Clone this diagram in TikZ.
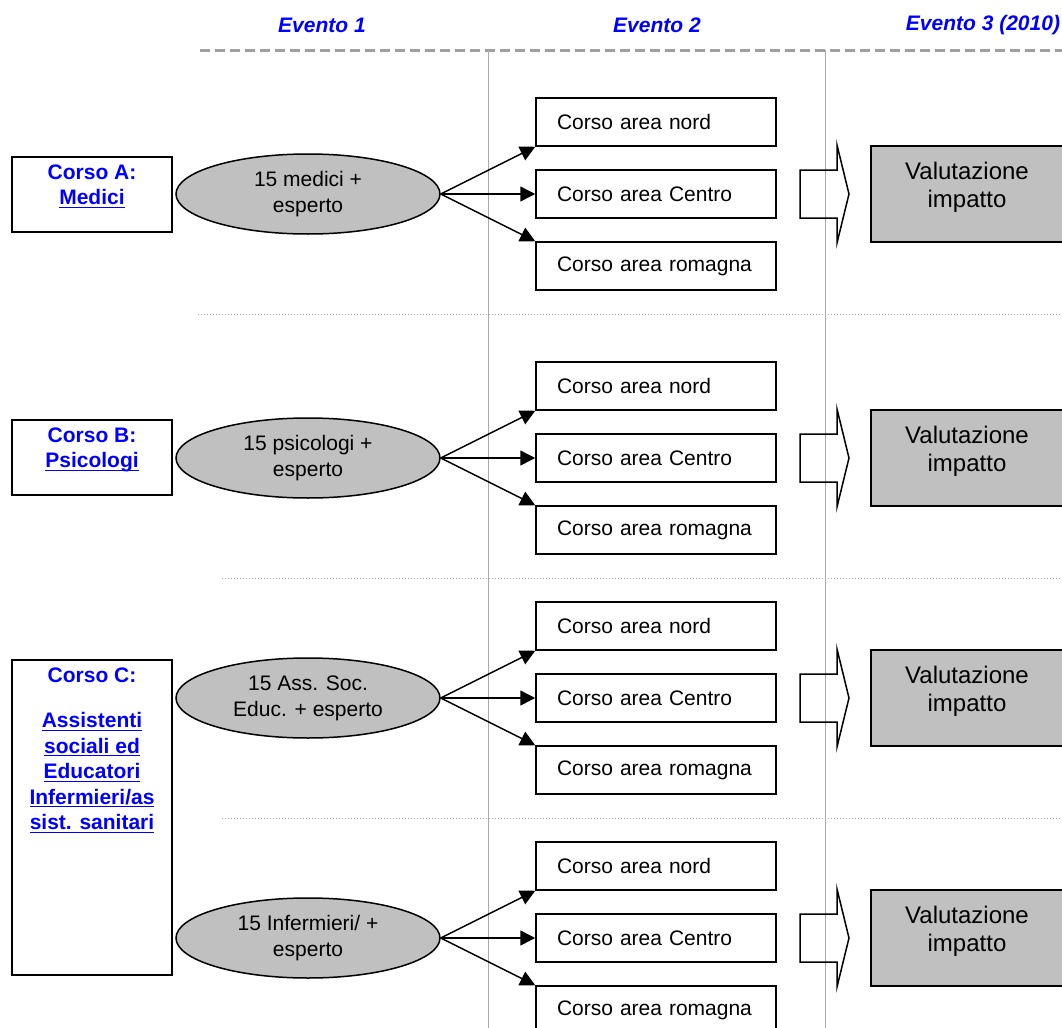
\documentclass[tikz,border=0pt]{standalone}
\usepackage{fontspec}
\setmainfont{Liberation Sans}
\usetikzlibrary{shapes.geometric}
\usetikzlibrary{arrows.meta}
\usetikzlibrary{positioning}
\definecolor{silver}{RGB}{192,192,192}
\definecolor{rulegray}{RGB}{160,160,160}
\definecolor{linegray}{RGB}{170,170,170}
\newcommand{\ulink}[1]{\underline{\smash{#1}}}
\tikzset{
area/.style={
  draw, line width=0.75pt,
  minimum width=120pt, minimum height=24pt,
  text width=99pt, inner xsep=10.5pt, inner ysep=0pt,
  align=left, font=\fontsize{10.5}{13}\selectfont
},
ente/.style={
  ellipse, draw, fill=silver, line width=0.75pt,
  minimum width=132pt, minimum height=40pt, inner sep=0pt,
  align=center, font=\fontsize{10.5}{13}\selectfont
},
corso/.style={draw, line width=1pt, minimum width=80pt, inner sep=0pt},
corsotext/.style={
  anchor=north, inner sep=0pt, align=center, text=blue,
  font=\bfseries\fontsize{10.5}{12.75}\selectfont
},
valuta/.style={draw, fill=silver, line width=0.75pt, minimum width=96pt, minimum height=48pt, inner sep=0pt},
valutatext/.style={anchor=north, inner sep=0pt, align=center, font=\fontsize{12}{14}\selectfont},
evento/.style={text=blue, font=\bfseries\itshape\fontsize{10.5}{13}\selectfont},
freccia/.style={-{Triangle[length=7.5pt,width=7.5pt]}, line width=0.75pt},
blocco/.style={line width=0.75pt, line join=miter},
}

\begin{document}
\begin{tikzpicture}[x=0.5pt,y=-0.5pt]
\useasboundingbox (0,0) rectangle (1062,1028);
% the header
\node[evento] (ev1) at (322,25) {Evento 1};
\node[evento] (ev2) at (657,25) {Evento 2};
\node[evento] (ev3) at (983,25) {Evento 3 (2010)};
\draw[rulegray, line width=1.5pt, dash pattern=on 5pt off 2.5pt] (200,50) -- (1062,50);
% the grid lines
\draw[linegray, line width=0.5pt] (488,50) -- (488,1028);
\draw[linegray, line width=0.5pt] (825,50) -- (825,1028);
\draw[linegray, line width=0.5pt, dash pattern=on 0.5pt off 1pt] (198,314) -- (1062,314);
\draw[linegray, line width=0.5pt, dash pattern=on 0.5pt off 1pt] (222,578) -- (1062,578);
\draw[linegray, line width=0.5pt, dash pattern=on 0.5pt off 1pt] (222,818) -- (1062,818);
% the courses
\node[corso, minimum height=37.5pt] (kA) at (92,194.5) {};
\node[corsotext] (ktA) at ([yshift=-4pt]kA.north) {Corso A:\\\ulink{Medici}};
\node[corso, minimum height=37.5pt] (kB) at (92,457.5) {};
\node[corsotext] (ktB) at ([yshift=-4pt]kB.north) {Corso B:\\\ulink{Psicologi}};
\node[corso, minimum height=157.5pt] (kC) at (92,817.5) {};
\node[corsotext] (ktC) at ([yshift=-4pt]kC.north) {Corso C:\\[10pt]\ulink{Assistenti}\\\ulink{sociali ed}\\\ulink{Educatori}\\\ulink{Infermieri/as}\\\ulink{sist. sanitari}};
% the rows
\foreach \r/\y/\t in {A/194/{15 medici +\\esperto},
                      B/458/{15 psicologi +\\esperto},
                      C/698/{15 Ass. Soc.\\Educ. + esperto},
                      D/938/{15 Infermieri/ +\\esperto}}
{
  \node[ente] (e\r) at (308,\y) {\t};
  \node[area] (n\r) at (656,\y-72) {Corso area nord};
  \node[area] (c\r) at (656,\y) {Corso area Centro};
  \node[area] (s\r) at (656,\y+72) {Corso area romagna};
  \node[valuta] (v\r) at (967,\y) {};
  \node[valutatext] (vt\r) at ([yshift=-8pt]v\r.north) {Valutazione\\impatto};
  \draw[freccia] (e\r.east) -- (n\r.south west);
  \draw[freccia] (e\r.east) -- (c\r.west);
  \draw[freccia] (e\r.east) -- (s\r.north west);
  \draw[blocco] (800,\y-24) -- (837,\y-24) -- (837,\y-49) -- (849,\y)
    -- (837,\y+49) -- (837,\y+24) -- (800,\y+24) -- cycle;
}
\end{tikzpicture}
\end{document}
